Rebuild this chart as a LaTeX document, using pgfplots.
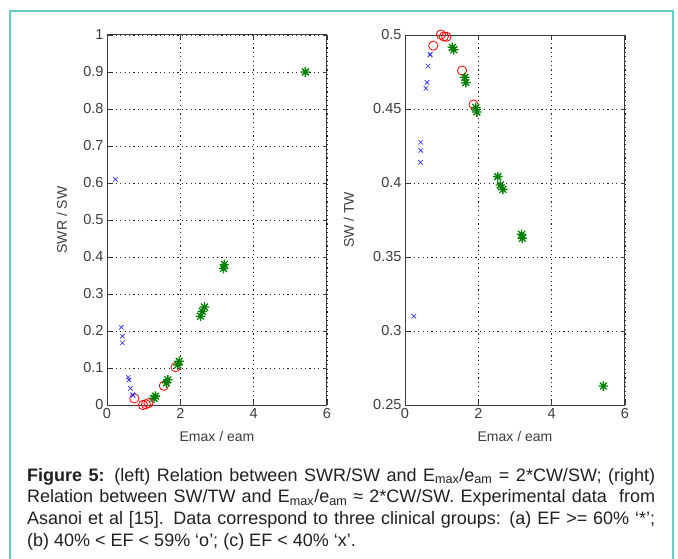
\documentclass[border=0pt]{standalone}
\usepackage{pgfplots}
\pgfplotsset{compat=1.18}
\usepackage{fontspec}
\setmainfont{Liberation Sans}

\definecolor{frameteal}{RGB}{102,204,192}
\definecolor{mgreen}{rgb}{0,0.5,0}
\definecolor{axgray}{RGB}{60,60,60}
\definecolor{captext}{RGB}{35,31,32}

% eight-spoke star, as in MATLAB's '*' marker
\pgfdeclareplotmark{mstar}{%
  \pgfpathmoveto{\pgfqpoint{-\pgfplotmarksize}{0pt}}%
  \pgfpathlineto{\pgfqpoint{\pgfplotmarksize}{0pt}}%
  \pgfpathmoveto{\pgfqpoint{0pt}{-\pgfplotmarksize}}%
  \pgfpathlineto{\pgfqpoint{0pt}{\pgfplotmarksize}}%
  \pgfpathmoveto{\pgfqpoint{-0.7071\pgfplotmarksize}{-0.7071\pgfplotmarksize}}%
  \pgfpathlineto{\pgfqpoint{0.7071\pgfplotmarksize}{0.7071\pgfplotmarksize}}%
  \pgfpathmoveto{\pgfqpoint{-0.7071\pgfplotmarksize}{0.7071\pgfplotmarksize}}%
  \pgfpathlineto{\pgfqpoint{0.7071\pgfplotmarksize}{-0.7071\pgfplotmarksize}}%
  \pgfusepathqstroke}

\pgfplotsset{
  matlab/.style={
    scale only axis, width=220pt, height=370pt,
    xmin=0, xmax=6, xtick={0,2,4,6},
    grid=major,
    major grid style={black!85, dash pattern=on 1.2pt off 3.2pt, line width=0.7pt},
    tick align=inside, major tick length=4pt,
    axis line style={axgray, line width=1pt},
    tick style={axgray, line width=0.7pt},
    ticklabel style={font=\fontsize{14.5}{14.5}\selectfont, text=axgray},
    label style={font=\fontsize{14}{14}\selectfont, text=axgray},
    /pgf/number format/assume math mode=true,
    xlabel={Emax / eam},
    xlabel style={at={(axis description cs:0.5,-0.084)}, anchor=center},
    clip=false,
  },
  grpO/.style={only marks, mark=o, mark size=4.6pt, red, mark options={line width=0.8pt}},
  grpX/.style={only marks, mark=x, mark size=3.2pt, blue!85, mark options={line width=0.6pt}},
  grpS/.style={only marks, mark=mstar, mark size=4.8pt, mgreen, mark options={line width=1.3pt}},
}

\begin{document}
\begin{tikzpicture}[x=1pt, y=1pt]
\path[use as bounding box] (0pt,0pt) rectangle (678pt,558pt);

% frame
\draw[frameteal, line width=1.6pt] (10pt,-2pt) -- (10pt,547pt) -- (673pt,547pt) -- (673pt,-2pt);

% left: SWR/SW
\begin{axis}[matlab, at={(107pt,153pt)}, anchor=south west,
  ymin=0, ymax=1, ytick={0,0.1,...,1.01},
  ylabel={SWR / SW},
  ylabel style={at={(axis description cs:-0.205,0.5)}, anchor=center}]
\addplot[grpO] coordinates {(0.745,0.018) (0.98,0.0) (1.06,0.002) (1.13,0.005) (1.55,0.052) (1.87,0.102)};
\addplot[grpX] coordinates {(0.23,0.610) (0.39,0.210) (0.42,0.186) (0.42,0.168) (0.58,0.075) (0.60,0.068) (0.64,0.045) (0.70,0.028) (0.71,0.026)};
\addplot[grpS] coordinates {(1.28,0.018) (1.32,0.024) (1.62,0.060) (1.66,0.068) (1.93,0.108) (1.97,0.118) (2.55,0.240) (2.60,0.253) (2.66,0.265) (3.18,0.369) (3.20,0.380) (5.41,0.900)};
\end{axis}

% right: SW/TW
\begin{axis}[matlab, at={(405pt,153pt)}, anchor=south west,
  ymin=0.25, ymax=0.5, ytick={0.25,0.3,0.35,0.4,0.45,0.5},
  yticklabel style={/pgf/number format/.cd, fixed, precision=2},
  ylabel={SW / TW},
  ylabel style={at={(axis description cs:-0.255,0.5)}, anchor=center}]
\addplot[grpO] coordinates {(0.77,0.4928) (0.98,0.5003) (1.06,0.499) (1.13,0.4988) (1.556,0.476) (1.87,0.453)};
\addplot[grpX] coordinates {(0.24,0.310) (0.42,0.414) (0.43,0.422) (0.43,0.4275) (0.57,0.464) (0.60,0.468) (0.63,0.479) (0.68,0.4865) (0.69,0.487)};
\addplot[grpS] coordinates {(1.29,0.4917) (1.33,0.490) (1.63,0.4714) (1.66,0.4678) (1.93,0.451) (1.96,0.448) (2.53,0.4043) (2.60,0.3986) (2.67,0.3957) (3.18,0.3653) (3.20,0.3626) (5.41,0.2628)};
\end{axis}

% caption
\node[anchor=north west, inner sep=0pt, text width=628pt, align=justify,
      font=\fontsize{18}{21.7}\selectfont, text=captext] at (27pt,90pt)
{\textbf{Figure 5:} (left) Relation between SWR/SW and E\textsubscript{max}/e\textsubscript{am} = 2*CW/SW; (right)\linebreak
Relation between SW/TW and E\textsubscript{max}/e\textsubscript{am} ≈ 2*CW/SW. Experimental data\ \ from\linebreak
Asanoi et al [15]. Data correspond to three clinical groups: (a) EF >= 60\% ‘*’;\linebreak
(b) 40\% < EF < 59\% ‘o’; (c) EF < 40\% ‘x’.};
\end{tikzpicture}
\end{document}
